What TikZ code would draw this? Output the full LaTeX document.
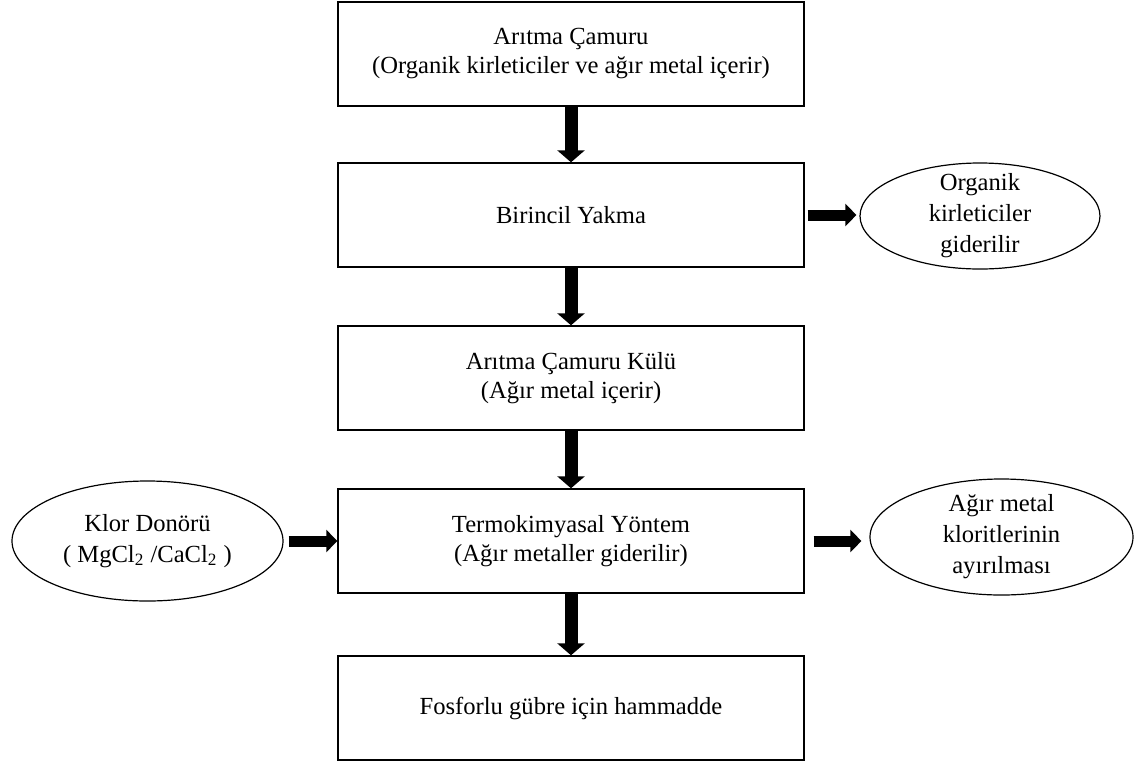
\documentclass[tikz,border=0pt]{standalone}
\usepackage{fontspec}
\setmainfont{Liberation Serif}
\usetikzlibrary{shapes.geometric,arrows.meta}
\begin{document}
\begin{tikzpicture}[x=0.5pt,y=-0.5pt,
		font=\fontsize{12.3}{14.5}\selectfont,
		kutu/.style={draw, line width=0.7pt, minimum width=233pt, minimum height=52pt, align=center, inner sep=0pt},
		oval/.style={draw, ellipse, line width=0.6pt, inner sep=0pt},
		ovalyazi/.style={align=center, font=\fontsize{12.3}{15.5}\selectfont},
		asagi/.style={line width=6.5pt, -{Triangle[width=13.5pt,length=6pt]}},
		yana/.style={line width=5.5pt, -{Triangle[width=11pt,length=5.5pt]}}]
		\useasboundingbox (0,0) rectangle (1136,762);
		% ana akis
		\node[kutu] (camur) at (571,54) {Arıtma Çamuru\\(Organik kirleticiler ve ağır metal içerir)};
		\node[kutu] (yakma) at (571,215) {Birincil Yakma};
		\node[kutu] (kul) at (571,378) {Arıtma Çamuru Külü\\(Ağır metal içerir)};
		\node[kutu] (termo) at (571,541) {Termokimyasal Yöntem\\(Ağır metaller giderilir)};
		\node[kutu] (gubre) at (571,708) {Fosforlu gübre için hammadde};
		% yan girdiler ve ciktilar
		\node[oval, minimum width=120pt, minimum height=53pt,
			label={[ovalyazi]center:Organik\\kirleticiler\\giderilir}] (organik) at (980,216) {};
		\node[oval, minimum width=135.5pt, minimum height=60pt,
			label={[ovalyazi]center:Klor Donörü\\( MgCl\textsubscript{2} /CaCl\textsubscript{2} )}] (klor) at (147.5,541) {};
		\node[oval, minimum width=131.5pt, minimum height=58pt,
			label={[ovalyazi]center:Ağır metal\\kloritlerinin\\ayırılması}] (ayrilma) at (1001.5,537) {};
		% oklar
		\draw[asagi] (camur.south) -- (yakma.north);
		\draw[asagi] (yakma.south) -- (kul.north);
		\draw[asagi] (kul.south) -- (termo.north);
		\draw[asagi] (termo.south) -- (gubre.north);
		\draw[yana, shorten <=1.5pt, shorten >=1.5pt] (yakma.east) -- (yakma.east -| organik.west);
		\draw[yana, shorten <=2.5pt] (klor.east) -- (termo.west);
		\draw[yana, shorten <=4.5pt, shorten >=4pt] (termo.east) -- (termo.east -| ayrilma.west);
	\end{tikzpicture}
\end{document}
